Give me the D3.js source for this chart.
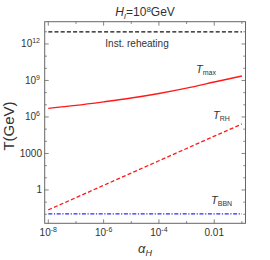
<!DOCTYPE html>
<html>
<head>
<meta charset="utf-8">
<script src="https://cdn.jsdelivr.net/npm/d3@7"></script>
<style>
  body { margin: 0; background: #fff; }
  text { font-family: "Liberation Sans", Arial, sans-serif; fill: #333; }
</style>
</head>
<body>
<script>
// alpha_H values (x) and the curves
var alphaH = [1e-8, 1e-7, 1e-6, 1e-5, 1e-4, 1e-3, 1e-2, 1e-1];
var tMax = [5.1e6, 8.9e6, 1.74e7, 3.6e7, 8.5e7, 2.34e8, 7.4e8, 2.34e9];
var tRH = [0.023, 0.234, 2.4, 24.5, 251, 2570, 2.63e4, 2.63e5];
var tInst = 1e13;
var tBBN = 0.011;

var xMajor = [1e-8, 1e-6, 1e-4, 1e-2];
var xMajorLabels = [["10", "-8"], ["10", "-6"], ["10", "-4"], ["0.01", ""]];
var xMinor = [1e-7, 1e-5, 1e-3, 1e-1];
var yMajor = [1, 1e3, 1e6, 1e9, 1e12];
var yMajorLabels = [["1", ""], ["1000", ""], ["10", "6"], ["10", "9"], ["10", "12"]];
var yMinor = [1e-2, 1e-1, 10, 100, 1e4, 1e5, 1e7, 1e8, 1e10, 1e11, 1e13];

var width = 270, height = 260;
var margin = {top: 21.7, right: 24.5, bottom: 36.7, left: 44.7};

var svg = d3.select("body").append("svg")
  .attr("width", width)
  .attr("height", height);

var x = d3.scaleLog()
  .domain([Math.pow(10, -8.13), Math.pow(10, -0.87)])
  .range([margin.left, width - margin.right]);
var y = d3.scaleLog()
  .domain([Math.pow(10, -2.74), Math.pow(10, 13.83)])
  .range([height - margin.bottom, margin.top]);

var x0 = margin.left, x1 = width - margin.right;
var y0 = height - margin.bottom, y1 = margin.top;

// clip for the data lines
svg.append("clipPath").attr("id", "clip")
  .append("rect")
  .attr("x", x0).attr("y", y1)
  .attr("width", x1 - x0).attr("height", y0 - y1);

var plot = svg.append("g").attr("clip-path", "url(#clip)");

var line = d3.line()
  .x(function(d) { return x(d[0]); })
  .y(function(d) { return y(d[1]); })
  .curve(d3.curveMonotoneX);

// instant reheating
plot.append("path")
  .datum([[alphaH[0], tInst], [alphaH[alphaH.length - 1], tInst]])
  .attr("d", line)
  .attr("fill", "none")
  .attr("stroke", "#111")
  .attr("stroke-width", 1.3)
  .attr("stroke-dasharray", "4,2.2");

// T_max
plot.append("path")
  .datum(alphaH.map(function(a, i) { return [a, tMax[i]]; }))
  .attr("d", line)
  .attr("fill", "none")
  .attr("stroke", "#ff1a1a")
  .attr("stroke-width", 1.4);

// T_RH
plot.append("path")
  .datum(alphaH.map(function(a, i) { return [a, tRH[i]]; }))
  .attr("d", line)
  .attr("fill", "none")
  .attr("stroke", "#ff1a1a")
  .attr("stroke-width", 1.3)
  .attr("stroke-dasharray", "4,2.2");

// T_BBN
plot.append("path")
  .datum([[alphaH[0], tBBN], [alphaH[alphaH.length - 1], tBBN]])
  .attr("d", line)
  .attr("fill", "none")
  .attr("stroke", "#2a2aff")
  .attr("stroke-width", 1.3)
  .attr("stroke-dasharray", "4,1.6,1.2,1.6");

// frame
svg.append("rect")
  .attr("x", x0).attr("y", y1)
  .attr("width", x1 - x0).attr("height", y0 - y1)
  .attr("fill", "none")
  .attr("stroke", "#666")
  .attr("stroke-width", 1);

// ticks (inward, mirrored)
var tickG = svg.append("g").attr("stroke", "#666").attr("stroke-width", 0.8);
function xTick(v, len) {
  tickG.append("line").attr("x1", x(v)).attr("x2", x(v)).attr("y1", y0).attr("y2", y0 - len);
  tickG.append("line").attr("x1", x(v)).attr("x2", x(v)).attr("y1", y1).attr("y2", y1 + len);
}
function yTick(v, len) {
  tickG.append("line").attr("y1", y(v)).attr("y2", y(v)).attr("x1", x0).attr("x2", x0 + len);
  tickG.append("line").attr("y1", y(v)).attr("y2", y(v)).attr("x1", x1).attr("x2", x1 - len);
}
xMajor.forEach(function(v) { xTick(v, 4); });
xMinor.forEach(function(v) { xTick(v, 2.2); });
yMajor.forEach(function(v) { yTick(v, 4); });
yMinor.forEach(function(v) { yTick(v, 2.2); });

// tick labels
xMajor.forEach(function(v, i) {
  var t = svg.append("text")
    .attr("x", x(v)).attr("y", 236)
    .attr("text-anchor", "middle")
    .attr("font-size", 10);
  t.append("tspan").text(xMajorLabels[i][0]);
  if (xMajorLabels[i][1]) {
    t.append("tspan").attr("dy", -4).attr("font-size", 7).text(xMajorLabels[i][1]);
  }
});
yMajor.forEach(function(v, i) {
  var t = svg.append("text")
    .attr("x", yMajorLabels[i][1] ? 40 : 42)
    .attr("y", y(v) + 3.5)
    .attr("text-anchor", "end")
    .attr("font-size", 10);
  t.append("tspan").text(yMajorLabels[i][0]);
  if (yMajorLabels[i][1]) {
    t.append("tspan").attr("dy", -4).attr("font-size", 7).text(yMajorLabels[i][1]);
  }
});

// title
var title = svg.append("text")
  .attr("x", 145).attr("y", 16)
  .attr("text-anchor", "middle")
  .attr("font-size", 12);
title.append("tspan").attr("font-style", "italic").text("H");
title.append("tspan").attr("font-style", "italic").attr("font-size", 8).attr("dy", 2.5).text("I");
title.append("tspan").attr("dy", -2.5).text("=10");
title.append("tspan").attr("font-size", 8).attr("dy", -4.5).text("8");
title.append("tspan").attr("dy", 4.5).text("GeV");

// axis labels
svg.append("text")
  .attr("transform", "translate(14,126) rotate(-90)")
  .attr("text-anchor", "middle")
  .attr("font-size", 15)
  .text("T(GeV)");
var xl = svg.append("text")
  .attr("x", 145).attr("y", 253)
  .attr("text-anchor", "middle")
  .attr("font-size", 13);
xl.append("tspan").attr("font-style", "italic").text("α");
xl.append("tspan").attr("font-style", "italic").attr("font-size", 9).attr("dy", 3).text("H");

// curve labels
svg.append("text")
  .attr("x", 137).attr("y", 47)
  .attr("text-anchor", "middle")
  .attr("font-size", 10)
  .text("Inst. reheating");

function curveLabel(xp, yp, sub) {
  var t = svg.append("text").attr("x", xp).attr("y", yp).attr("font-size", 11);
  t.append("tspan").attr("font-style", "italic").text("T");
  t.append("tspan").attr("font-size", 7).attr("dy", 2).text(sub);
}
curveLabel(196, 73, "max");
curveLabel(213, 119, "RH");
curveLabel(211, 204, "BBN");
</script>
</body>
</html>
